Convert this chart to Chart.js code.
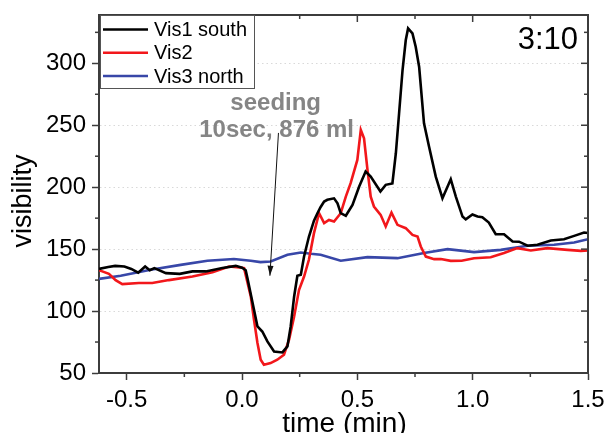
<!DOCTYPE html>
<html>
<head>
<meta charset="utf-8">
<script src="https://cdn.jsdelivr.net/npm/chart.js@4.4.0/dist/chart.umd.min.js"></script>
<style>
  html, body { margin: 0; padding: 0; background: #fff; }
</style>
</head>
<body>
<canvas id="chart" width="608" height="433"></canvas>
<script>
// series names
const seriesNames = ['Vis1 south', 'Vis2', 'Vis3 north']

// Vis1 south (black)
const vis1Time = [-0.62, -0.58, -0.55, -0.51, -0.48, -0.45, -0.42, -0.40, -0.38, -0.33, -0.27, -0.215, -0.157, -0.085, -0.027, 0.0, 0.016, 0.023, 0.052, 0.067, 0.088, 0.11, 0.139, 0.175, 0.197, 0.211, 0.226, 0.24, 0.255, 0.269, 0.29, 0.312, 0.327, 0.341, 0.356, 0.37, 0.399, 0.414, 0.428, 0.45, 0.479, 0.508, 0.536, 0.558, 0.6, 0.623, 0.652, 0.667, 0.681, 0.696, 0.71, 0.72, 0.739, 0.753, 0.768, 0.789, 0.811, 0.84, 0.869, 0.905, 0.927, 0.956, 0.97, 0.999, 1.021, 1.042, 1.07, 1.1, 1.136, 1.173, 1.201, 1.238, 1.281, 1.339, 1.396, 1.44, 1.483, 1.5]
const vis1Vals = [134, 135.5, 136.5, 136, 134, 131, 136, 133, 134.7, 130.6, 130, 132, 132, 134.7, 136.5, 135, 133, 127, 101, 87.6, 83.5, 75.5, 67.4, 66.6, 71.5, 87.6, 111.8, 128.5, 129.3, 144, 160, 173, 179, 184, 188.4, 189.8, 191, 187, 179, 176.9, 185.7, 200.5, 212.6, 208.5, 196.5, 201.9, 203, 227.4, 259.7, 294.6, 318.8, 328.2, 324.2, 313.4, 297, 251.6, 232.7, 208.5, 191.1, 206.4, 192.4, 176.3, 174, 178, 176.3, 175.8, 171.5, 162, 162, 156.1, 156, 152.7, 153.5, 157, 158, 160.7, 163.4, 163]

// Vis2 (red)
const vis2Time = [-0.62, -0.577, -0.548, -0.519, -0.447, -0.389, -0.317, -0.215, -0.128, -0.056, 0.0, 0.009, 0.038, 0.052, 0.067, 0.081, 0.095, 0.124, 0.153, 0.182, 0.204, 0.226, 0.247, 0.269, 0.29, 0.312, 0.334, 0.356, 0.377, 0.399, 0.428, 0.45, 0.471, 0.5, 0.515, 0.529, 0.544, 0.558, 0.572, 0.601, 0.623, 0.648, 0.674, 0.71, 0.739, 0.761, 0.775, 0.797, 0.833, 0.862, 0.905, 0.952, 1.006, 1.078, 1.136, 1.194, 1.252, 1.324, 1.411, 1.469, 1.5]
const vis2Vals = [133, 130, 125, 121.8, 122.6, 122.6, 125, 127.9, 131.4, 136, 135, 134.7, 111.8, 93, 74.2, 60.7, 56.7, 58, 60.7, 64.8, 76.9, 95.6, 117, 127.9, 141.4, 162.9, 179, 171, 173.6, 172.3, 179, 192.4, 203.2, 222, 246.2, 239.5, 214, 192.4, 184.4, 177.7, 168.3, 179.5, 169.6, 166.9, 161.5, 160.2, 152.1, 144, 141.9, 142, 140.5, 140.6, 142.7, 143.5, 146.8, 150.8, 148.9, 150.8, 149.4, 148.6, 149]

// Vis3 north (blue)
const vis3Time = [-0.62, -0.526, -0.396, -0.266, -0.15, -0.035, 0.038, 0.08, 0.124, 0.197, 0.255, 0.298, 0.341, 0.428, 0.544, 0.674, 0.789, 0.891, 1.006, 1.122, 1.238, 1.353, 1.44, 1.5]
const vis3Vals = [126, 128.5, 133.3, 137.3, 140.6, 142, 140.6, 139.5, 140, 145.4, 147.3, 146.2, 145.4, 140.6, 143.5, 142.7, 146.8, 150, 147.6, 149.4, 152.7, 153.5, 155.4, 158]

// axes
const xTicks = [-0.5, 0.0, 0.5, 1.0, 1.5]
const xMinor = [-0.25, 0.25, 0.75, 1.25]
const yTicks = [50, 100, 150, 200, 250, 300]
const yMinor = [75, 125, 175, 225, 275, 325]

const colors = ['#000000', '#f2171b', '#3847a8']
const axisColor = '#3c3c3c'
const fontFamily = '"Liberation Sans", Arial, Helvetica, sans-serif'

const toPoints = (t, v) => t.map((x, i) => ({ x: x, y: v[i] }))

const line = (ctx, x1, y1, x2, y2) => {
    ctx.beginPath()
    ctx.moveTo(x1, y1)
    ctx.lineTo(x2, y2)
    ctx.stroke()
}

// frame, mirror/minor ticks, legend, annotation, titles
const decorPlugin = {
    id: 'decor',
    afterDraw(chart) {
        const { ctx, chartArea: a, scales: { x, y } } = chart
        ctx.save()

        // top + right frame
        ctx.strokeStyle = axisColor
        ctx.lineWidth = 2
        ctx.beginPath()
        ctx.moveTo(a.left, a.top)
        ctx.lineTo(a.right, a.top)
        ctx.lineTo(a.right, a.bottom)
        ctx.stroke()

        ctx.lineWidth = 1.5
        xTicks.forEach(v => {
            const px = x.getPixelForValue(v)
            line(ctx, px, a.top, px, a.top + 7)
        })
        yTicks.forEach(v => {
            const py = y.getPixelForValue(v)
            line(ctx, a.right - 7, py, a.right, py)
        })
        xMinor.forEach(v => {
            const px = x.getPixelForValue(v)
            line(ctx, px, a.bottom, px, a.bottom + 4)
            line(ctx, px, a.top, px, a.top + 4)
        })
        yMinor.forEach(v => {
            const py = y.getPixelForValue(v)
            line(ctx, a.left - 4, py, a.left, py)
            line(ctx, a.right - 4, py, a.right, py)
        })

        // legend box
        const lx = a.left + 1, ly = a.top
        ctx.fillStyle = '#fff'
        ctx.fillRect(lx, ly, 154, 73)
        ctx.strokeStyle = '#555'
        ctx.lineWidth = 1
        ctx.strokeRect(lx + 0.5, ly + 0.5, 154, 73)
        ctx.font = '20px ' + fontFamily
        ctx.textBaseline = 'middle'
        ctx.textAlign = 'left'
        seriesNames.forEach((name, i) => {
            const ry = ly + 14.5 + i * 23.3
            ctx.strokeStyle = colors[i]
            ctx.lineWidth = 2.5
            line(ctx, lx + 3, ry, lx + 48, ry)
            ctx.fillStyle = '#000'
            ctx.fillText(name, lx + 54, ry + 1)
        })

        // seeding annotation
        ctx.fillStyle = '#858585'
        ctx.font = 'bold 24px ' + fontFamily
        ctx.textAlign = 'center'
        ctx.fillText('seeding', x.getPixelForValue(0.146), y.getPixelForValue(268))
        ctx.fillText('10sec, 876 ml', x.getPixelForValue(0.15), y.getPixelForValue(246))

        const ax1 = x.getPixelForValue(0.158), ay1 = y.getPixelForValue(243.8)
        const ax2 = x.getPixelForValue(0.121), ay2 = y.getPixelForValue(128.5)
        ctx.strokeStyle = '#111'
        ctx.lineWidth = 1
        line(ctx, ax1, ay1, ax2, ay2)
        const ang = Math.atan2(ay2 - ay1, ax2 - ax1)
        ctx.fillStyle = '#111'
        ctx.beginPath()
        ctx.moveTo(ax2, ay2)
        ctx.lineTo(ax2 - 10 * Math.cos(ang) + 3 * Math.sin(ang), ay2 - 10 * Math.sin(ang) - 3 * Math.cos(ang))
        ctx.lineTo(ax2 - 10 * Math.cos(ang) - 3 * Math.sin(ang), ay2 - 10 * Math.sin(ang) + 3 * Math.cos(ang))
        ctx.closePath()
        ctx.fill()

        // panel label
        ctx.fillStyle = '#000'
        ctx.font = '31px ' + fontFamily
        ctx.textAlign = 'right'
        ctx.fillText('3:10', a.right - 10, a.top + 25)

        // axis titles
        ctx.font = '28px ' + fontFamily
        ctx.textAlign = 'center'
        ctx.fillText('time (min)', (a.left + a.right) / 2 + 1, 424)
        ctx.save()
        ctx.translate(24, 201)
        ctx.rotate(-Math.PI / 2)
        ctx.font = '27px ' + fontFamily
        ctx.fillText('visibility', 0, 0)
        ctx.restore()

        ctx.restore()
    }
}

const cfChart = {
    type: 'line',
    data: {
        datasets: [
            { label: seriesNames[0], data: toPoints(vis1Time, vis1Vals), borderColor: colors[0] },
            { label: seriesNames[1], data: toPoints(vis2Time, vis2Vals), borderColor: colors[1] },
            { label: seriesNames[2], data: toPoints(vis3Time, vis3Vals), borderColor: colors[2] },
        ]
    },
    options: {
        responsive: false,
        animation: false,
        layout: { padding: { left: 0, top: 15, right: 20, bottom: 0 } },
        elements: {
            point: { radius: 0 },
            line: { borderWidth: 2.6, tension: 0, fill: false }
        },
        plugins: {
            legend: { display: false },
            tooltip: { enabled: false }
        },
        scales: {
            x: {
                type: 'linear',
                min: -0.62,
                max: 1.5,
                afterBuildTicks: s => { s.ticks = xTicks.map(v => ({ value: v })) },
                afterFit: s => {
                    s.height = 60
                    s.paddingLeft = 0
                    s.paddingRight = 0
                },
                grid: {
                    drawOnChartArea: false,
                    drawTicks: true,
                    tickLength: 7,
                    tickWidth: 1.5,
                    tickColor: axisColor
                },
                border: { color: axisColor, width: 2 },
                ticks: {
                    padding: 6,
                    color: '#000',
                    font: { family: fontFamily, size: 24 },
                    maxRotation: 0,
                    callback: v => v.toFixed(1)
                }
            },
            y: {
                min: 50,
                max: 339,
                afterBuildTicks: s => { s.ticks = yTicks.map(v => ({ value: v })) },
                afterFit: s => {
                    s.width = 99
                    s.paddingTop = 0
                    s.paddingBottom = 0
                },
                grid: {
                    color: '#d9d9d9',
                    drawTicks: true,
                    tickLength: 7,
                    tickWidth: 1.5,
                    tickColor: axisColor
                },
                border: { color: axisColor, width: 2, dash: [1.5, 3] },
                ticks: {
                    padding: 6,
                    color: '#000',
                    font: { family: fontFamily, size: 24 },
                    callback: v => String(v)
                }
            }
        }
    },
    plugins: [decorPlugin]
}

new Chart(document.getElementById('chart').getContext('2d'), cfChart)
</script>
</body>
</html>
